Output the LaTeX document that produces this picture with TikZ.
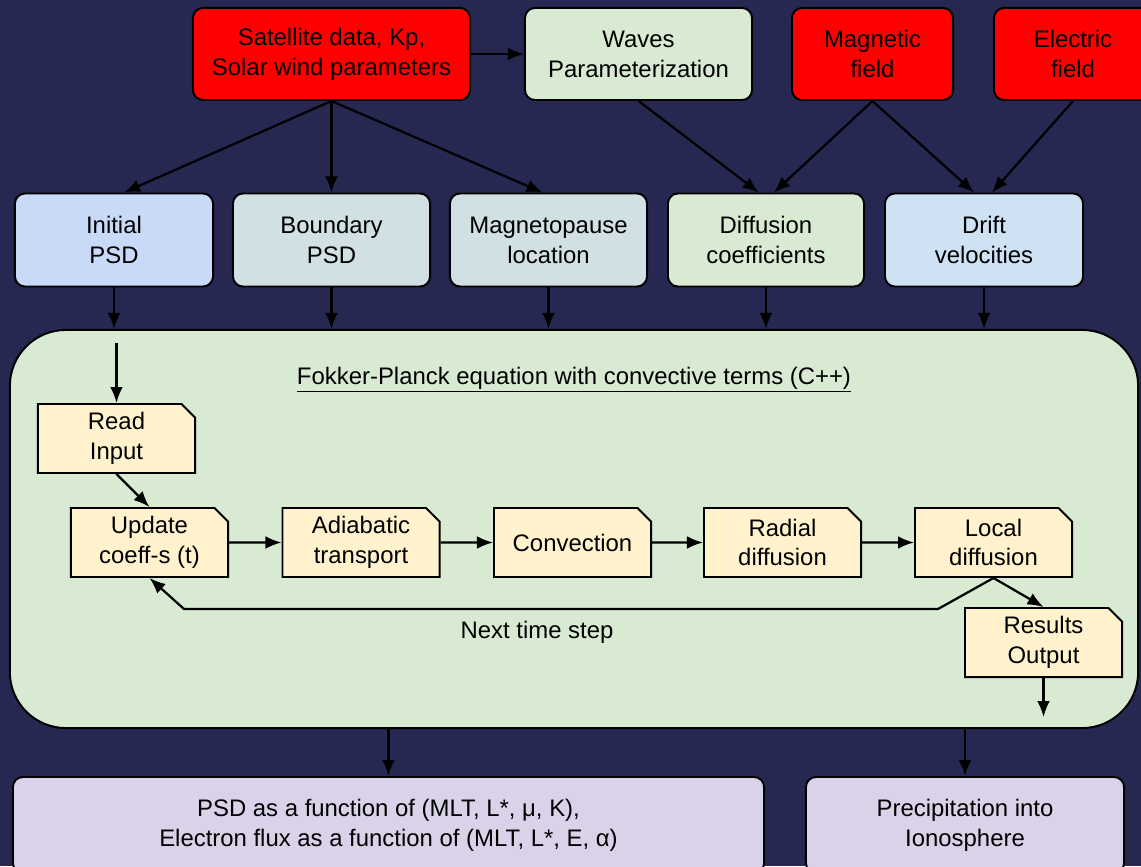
\documentclass[tikz,border=0pt]{standalone}
\usepackage{fontspec}
\setmainfont{Liberation Sans}
\usetikzlibrary{arrows.meta, shapes.misc}

\definecolor{bgnavy}{RGB}{38,40,82}
\definecolor{alertred}{RGB}{255,0,0}
\definecolor{wavegreen}{RGB}{217,234,211}
\definecolor{initblue}{RGB}{201,218,248}
\definecolor{bndgrey}{RGB}{208,224,227}
\definecolor{driftblue}{RGB}{207,226,243}
\definecolor{stepfill}{RGB}{255,242,204}
\definecolor{outlav}{RGB}{217,210,233}

\begin{document}
\begin{tikzpicture}[x=0.025cm, y=-0.025cm,
  every node/.style={font=\fontsize{17}{21.2}\selectfont, align=center, text=black},
  inbox/.style={draw=black, line width=1.4pt, rounded corners=0.25cm, inner sep=0pt, minimum height=2.3cm},
  stepbox/.style={chamfered rectangle, chamfered rectangle corners=north east, chamfered rectangle xsep=0.17cm, chamfered rectangle ysep=0.17cm, draw=black, line width=1.4pt, fill=stepfill, inner sep=0pt, minimum width=3.925cm, minimum height=1.725cm},
  link/.style={-{Latex[length=4mm, width=3.2mm]}, line width=1.6pt}]
\useasboundingbox (0,0) rectangle (1141,866);
\fill[bgnavy] (0,0) rectangle (1141,866);
\clip (0,0) rectangle (1141,866);

\node[inbox, fill=alertred, minimum width=6.925cm] (sat) at (331.5,54) {Satellite data, Kp,\\Solar wind parameters};
\node[inbox, fill=wavegreen, minimum width=5.675cm] (waves) at (638.5,54) {Waves\\Parameterization};
\node[inbox, fill=alertred, minimum width=4.025cm] (bfield) at (872.5,54) {Magnetic\\field};
\node[inbox, fill=alertred, minimum width=3.95cm] (efield) at (1073,54) {Electric\\field};

\node[inbox, fill=initblue, minimum width=4.95cm, minimum height=2.325cm] (initpsd) at (114,240) {Initial\\PSD};
\node[inbox, fill=bndgrey, minimum width=4.925cm, minimum height=2.325cm] (bndpsd) at (331.5,240) {Boundary\\PSD};
\node[inbox, fill=bndgrey, minimum width=4.925cm, minimum height=2.325cm] (mpause) at (548.5,240) {Magnetopause\\location};
\node[inbox, fill=wavegreen, minimum width=4.9cm, minimum height=2.325cm] (diffco) at (766,240) {Diffusion\\coefficients};
\node[inbox, fill=driftblue, minimum width=4.95cm, minimum height=2.325cm] (drift) at (984,240) {Drift\\velocities};

\draw[link] (sat.south) -- ([xshift=0.25cm]initpsd.north);
\draw[link] (sat.south) -- (bndpsd.north);
\draw[link] (sat.south) -- ([xshift=-0.15cm]mpause.north);
\draw[link] (sat.east) -- (waves.west);
\draw[link] (waves.south) -- ([xshift=-0.18cm]diffco.north);
\draw[link] (bfield.south) -- ([xshift=0.2cm]diffco.north);
\draw[link] (bfield.south) -- ([xshift=-0.25cm]drift.north);
\draw[link] (efield.south) -- ([xshift=0.2cm]drift.north);

\node[draw=black, line width=1.4pt, fill=wavegreen, rounded corners=1.4cm, minimum width=28.2cm, minimum height=9.95cm] (fp) at (574,529) {};
\node (fptitle) at (574,380) {\underline{Fokker-Planck equation with convective terms (C++)}};

\foreach \n in {initpsd, bndpsd, mpause, diffco, drift}
  \draw[link] (\n.south) -- (\n.south |- fp.north);

\node[stepbox] (readbox) at (116.5,438.5) {Read\\Input};
\node[stepbox] (update) at (149.5,542.5) {Update\\coeff-s (t)};
\node[stepbox] (adiab) at (361,542.5) {Adiabatic\\transport};
\node[stepbox] (convect) at (572.5,542.5) {Convection};
\node[stepbox] (radial) at (782.5,542.5) {Radial\\diffusion};
\node[stepbox] (local) at (993.5,542.5) {Local\\diffusion};
\node[stepbox] (results) at (1043.5,642.5) {Results\\Output};

\coordinate (readin) at (116.5,343);
\coordinate (loopr) at (938,609);
\coordinate (loopl) at (184,609);
\coordinate (resout) at (1043.5,717);

\draw[link] (readin) -- (readbox.north);
\draw[link] (readbox.south) -- (update.north);
\draw[link] (update) -- (adiab);
\draw[link] (adiab) -- (convect);
\draw[link] (convect) -- (radial);
\draw[link] (radial) -- (local);
\draw[link] (local.south) -- (results.north);
\draw[link] (local.south) -- (loopr) -- (loopl) -- (update.south);
\draw[link] (results.south) -- (resout);
\node (nextstep) at (537,632) {Next time step};

\node[inbox, fill=outlav, minimum width=18.775cm, minimum height=2.4cm] (psdout) at (388.5,825) {PSD as a function of (MLT, L*, μ, K),\\Electron flux as a function of (MLT, L*, E, α)};
\node[inbox, fill=outlav, minimum width=7.95cm, minimum height=2.4cm] (precip) at (965,825) {Precipitation into\\Ionosphere};
\draw[link] (fp.south -| psdout.north) -- (psdout.north);
\draw[link] (fp.south -| precip.north) -- (precip.north);
\end{tikzpicture}
\end{document}
